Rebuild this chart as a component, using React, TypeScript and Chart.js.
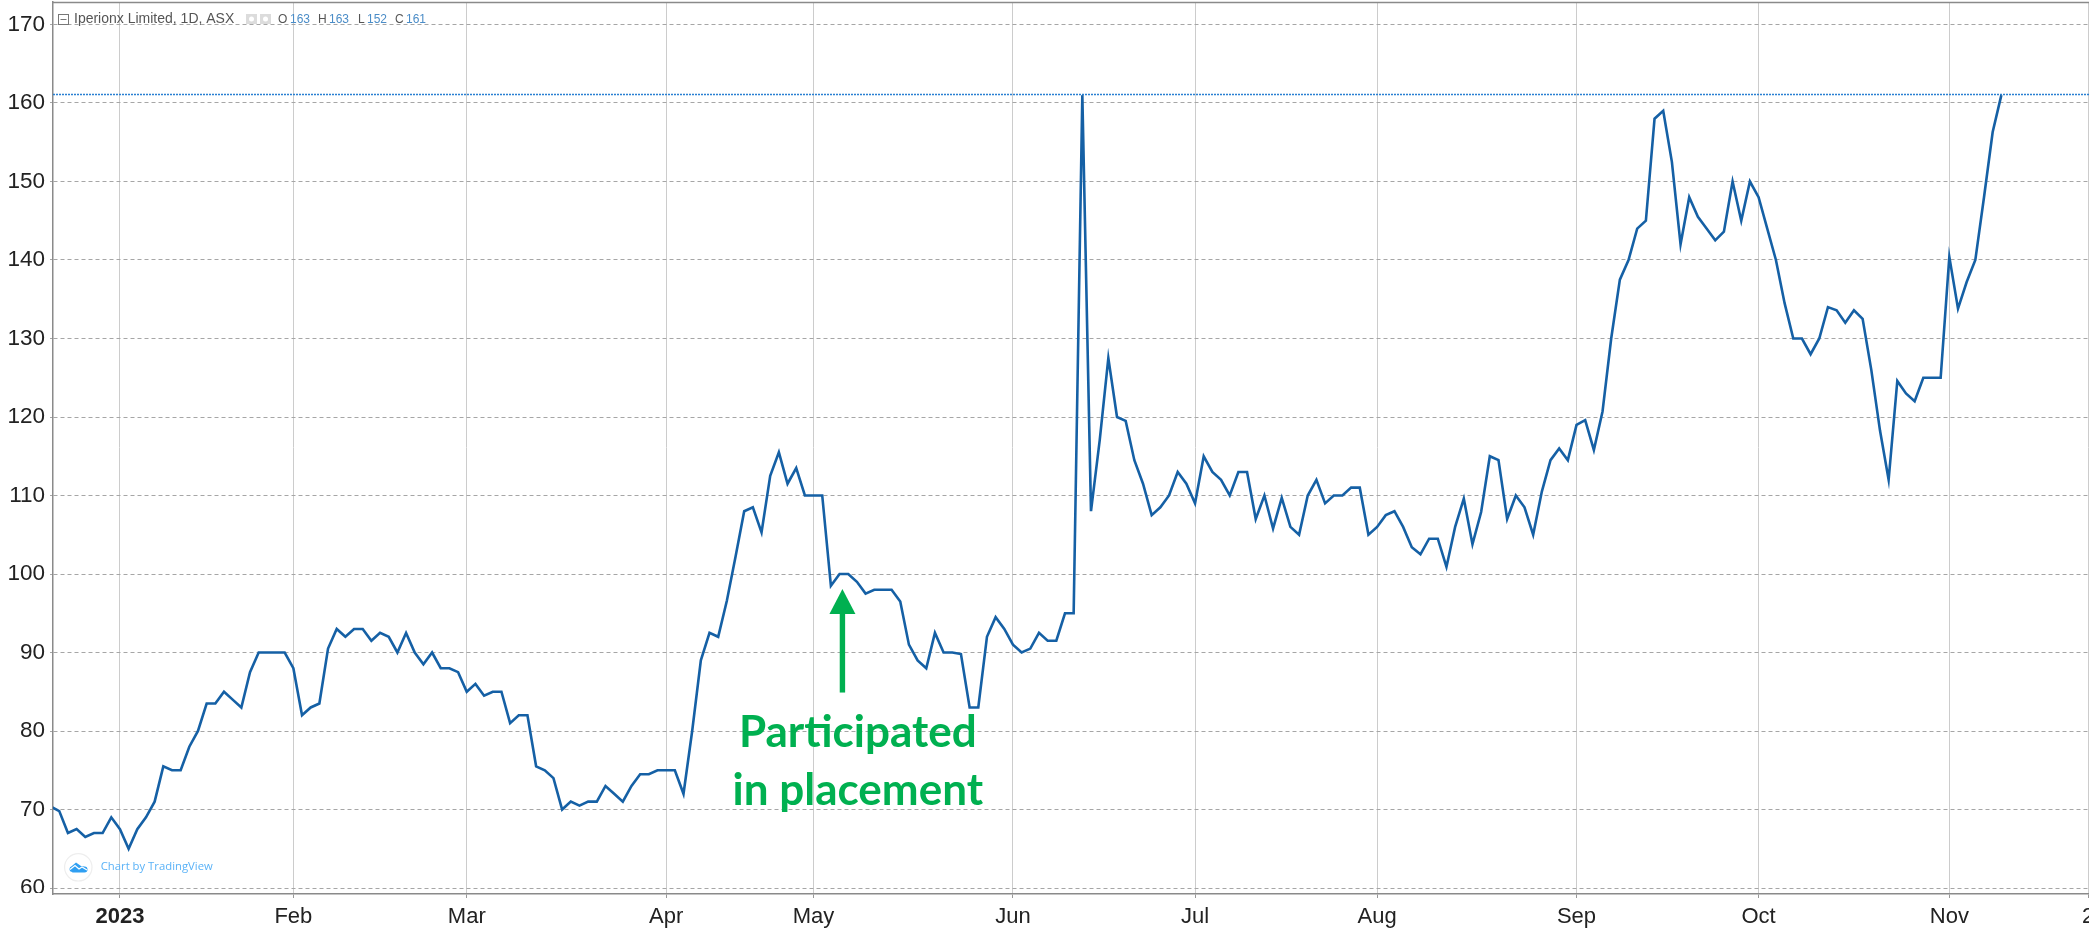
import React, { useEffect, useRef } from "react";
import { Chart, registerables } from "chart.js";

Chart.register(...registerables);

const closePrices = [
  70.4, 69.8, 67, 67.5, 66.5, 67, 67, 69, 67.5, 65, 67.5, 69, 71, 75.5, 75, 75, 78, 80, 83.5, 83.5,
  85, 84, 83, 87.5, 90, 90, 90, 90, 88, 82, 83, 83.5, 90.5, 93, 92, 93, 93, 91.5, 92.5, 92,
  90, 92.5, 90, 88.5, 90, 88, 88, 87.5, 85, 86, 84.5, 85, 85, 81, 82, 82, 75.5, 75, 74, 70,
  71, 70.5, 71, 71, 73, 72, 71, 73, 74.5, 74.5, 75, 75, 75, 72, 80, 89, 92.5, 92, 96.6, 102.2,
  108, 108.5, 105.3, 112.5, 115.5, 111.5, 113.5, 110, 110, 110, 98.5, 100, 100, 99, 97.5, 98, 98, 98, 96.5, 91,
  89, 88, 92.5, 90, 90, 89.8, 83, 83, 92, 94.5, 93, 91, 90, 90.5, 92.5, 91.5, 91.5, 95, 95, 161,
  108, 117, 127.5, 120, 119.5, 114.5, 111.5, 107.5, 108.5, 110, 113, 111.5, 109, 115, 113, 112, 110, 113, 113, 107,
  110, 105.8, 109.7, 106, 105, 110, 112, 109, 110, 110, 111, 111, 105, 106, 107.5, 108, 106, 103.4, 102.5, 104.5,
  104.5, 100.9, 106, 109.6, 103.8, 107.9, 115, 114.5, 107, 110, 108.5, 105, 110.5, 114.5, 116, 114.5, 119, 119.6, 115.8, 120.7,
  130, 137.5, 140, 144, 145, 158, 159, 152.5, 142, 148, 145.5, 144, 142.5, 143.6, 150, 145, 150, 148, 144, 140,
  134.5, 130, 130, 128, 130, 134, 133.6, 132, 133.6, 132.5, 126, 118.3, 112, 124.6, 123, 122, 125, 125, 125, 140.4,
  133.8, 137.2, 140, 148, 156.3, 161,
];
const lastPrice = 161.08;
const monthTickIndex = [8, 28, 48, 71, 88, 111, 132, 153, 176, 197, 219, 235];
const monthTickLabels = ["2023", "Feb", "Mar", "Apr", "May", "Jun", "Jul", "Aug", "Sep", "Oct", "Nov", "2"];
const priceTicks = [60, 70, 80, 90, 100, 110, 120, 130, 140, 150, 160, 170];
const headerTitle = "Iperionx Limited, 1D, ASX";
const ohlcKeys = ["O", "H", "L", "C"];
const ohlcValues = ["163", "163", "152", "161"];
const annotationLines = ["Participated", "in placement"];

const X_MIN = 0.277;
const X_MAX = 235.11;
const Y_MIN = 59.236;
const Y_MAX = 172.866;
const GREEN = "#00b050";
const SANS = '"Liberation Sans", Arial, sans-serif';

const overlayPlugin = {
  id: "overlay",
  afterDraw(chart: any) {
    const { ctx, scales } = chart;
    const px = (i: number) => scales.x.getPixelForValue(i);
    const py = (v: number) => scales.y.getPixelForValue(v);
    ctx.save();

    // "60" label is cut by the axis line in the source
    ctx.fillStyle = "#fff";
    ctx.fillRect(0, 893, 52, 37);

    // top frame
    ctx.strokeStyle = "#8a8a8a";
    ctx.lineWidth = 1.5;
    ctx.beginPath();
    ctx.moveTo(53, 2.5);
    ctx.lineTo(2089, 2.5);
    ctx.stroke();

    // legend header
    ctx.textBaseline = "middle";
    ctx.textAlign = "left";
    ctx.strokeStyle = "#777";
    ctx.lineWidth = 1;
    ctx.strokeRect(58.5, 14.5, 10, 10);
    ctx.beginPath();
    ctx.moveTo(60.5, 19.5);
    ctx.lineTo(66.5, 19.5);
    ctx.stroke();
    ctx.font = `14px ${SANS}`;
    ctx.fillStyle = "#555";
    ctx.fillText(headerTitle, 74, 19);
    [246, 260].forEach((x) => {
      ctx.fillStyle = "#dcdcdc";
      ctx.fillRect(x, 14, 11, 10);
      ctx.fillStyle = "#fff";
      ctx.beginPath();
      ctx.arc(x + 5.5, 19, 2.5, 0, Math.PI * 2);
      ctx.fill();
    });
    const keyX = [278, 318, 358, 395];
    const valX = [290, 329, 367, 406];
    ctx.font = `12px ${SANS}`;
    ohlcKeys.forEach((k, i) => {
      ctx.fillStyle = "#555";
      ctx.fillText(k, keyX[i], 20);
      ctx.fillStyle = "#4a8cc7";
      ctx.fillText(ohlcValues[i], valX[i], 20);
    });

    // TradingView badge
    ctx.strokeStyle = "#eeeeee";
    ctx.lineWidth = 1.2;
    ctx.beginPath();
    ctx.arc(78.3, 867.3, 13.7, 0, Math.PI * 2);
    ctx.stroke();
    ctx.fillStyle = "#2f9ff2";
    ctx.beginPath();
    ctx.moveTo(72, 872.5);
    ctx.arc(72.5, 869, 3, Math.PI * 0.5, Math.PI * 1.4);
    ctx.lineTo(76, 862.5);
    ctx.lineTo(81, 866);
    ctx.arc(84.5, 869.5, 3, Math.PI * 1.5, Math.PI * 0.5);
    ctx.closePath();
    ctx.fill();
    ctx.strokeStyle = "#fff";
    ctx.lineWidth = 1.2;
    ctx.beginPath();
    ctx.moveTo(70, 869.5);
    ctx.lineTo(75, 865.5);
    ctx.lineTo(79, 869);
    ctx.lineTo(82, 867);
    ctx.lineTo(87, 870);
    ctx.stroke();
    ctx.fillStyle = "#5ab2f7";
    ctx.font = '11.3px "Open Sans", sans-serif';
    ctx.fillText("Chart by TradingView", 100.7, 867);

    // arrow
    const ax = px(91.33);
    const tip = py(98.1);
    const base = py(94.9);
    const tail = py(84.9);
    ctx.fillStyle = GREEN;
    ctx.fillRect(ax - 2.7, base - 1, 5.4, tail - base + 1);
    ctx.beginPath();
    ctx.moveTo(ax, tip);
    ctx.lineTo(ax + 13, base);
    ctx.lineTo(ax - 13, base);
    ctx.closePath();
    ctx.fill();

    // annotation text
    ctx.font = 'bold 44px Lato, sans-serif';
    ctx.textAlign = "center";
    ctx.textBaseline = "alphabetic";
    ctx.fillText(annotationLines[0], px(93.1), 747);
    ctx.fillText(annotationLines[1], px(93.1), 805);
    ctx.restore();
  },
};

export default function App() {
  const ref = useRef<HTMLCanvasElement>(null);
  useEffect(() => {
    const chart = new Chart(ref.current!, {
      type: "line",
      data: {
        datasets: [
          {
            data: closePrices.map((y, x) => ({ x, y })),
            borderColor: "#1560a5",
            borderWidth: 2.6,
            pointRadius: 0,
            tension: 0,
          },
          {
            data: [
              { x: X_MIN, y: lastPrice },
              { x: X_MAX, y: lastPrice },
            ],
            borderColor: "#2a80d2",
            borderWidth: 1.3,
            borderDash: [2, 1],
            pointRadius: 0,
          },
        ],
      },
      options: {
        animation: false,
        responsive: false,
        layout: { autoPadding: false, padding: { top: 2, left: 0, right: 0, bottom: 0 } },
        plugins: { legend: { display: false }, tooltip: { enabled: false } },
        scales: {
          x: {
            type: "linear",
            min: X_MIN,
            max: X_MAX,
            afterBuildTicks: (s: any) => {
              s.ticks = monthTickIndex.map((value) => ({ value }));
            },
            afterFit: (s: any) => {
              s.height = 36;
              s.paddingLeft = 0;
              s.paddingRight = 0;
            },
            ticks: {
              autoSkip: false,
              maxRotation: 0,
              padding: 6,
              color: "#222",
              font: (c: any) => ({
                family: SANS,
                size: 22,
                weight: c.index === 0 ? "bold" : "normal",
              }),
              callback: (_v: any, i: number) => monthTickLabels[i],
            },
            grid: { color: "#cccccc", lineWidth: 1, tickLength: 4, tickColor: "#999" },
            border: { color: "#8a8a8a", width: 1.5 },
          },
          y: {
            min: Y_MIN,
            max: Y_MAX,
            afterBuildTicks: (s: any) => {
              s.ticks = priceTicks.map((value) => ({ value }));
            },
            afterFit: (s: any) => {
              s.width = 53;
              s.paddingTop = 0;
              s.paddingBottom = 0;
            },
            ticks: {
              padding: 5,
              color: "#222",
              font: { family: SANS, size: 22.5 },
              callback: (v: any) => String(v),
            },
            grid: { color: "#a6a6a6", lineWidth: 1, tickLength: 3, tickColor: "#a6a6a6" },
            border: { color: "#8a8a8a", width: 1.5, dash: [4, 3] },
          },
        },
      },
      plugins: [overlayPlugin],
    } as any);
    return () => chart.destroy();
  }, []);
  return (
    <canvas
      ref={ref}
      width={2089}
      height={930}
      style={{ position: "fixed", left: 0, top: 0, width: 2089, height: 930, display: "block", background: "#fff" }}
    />
  );
}
